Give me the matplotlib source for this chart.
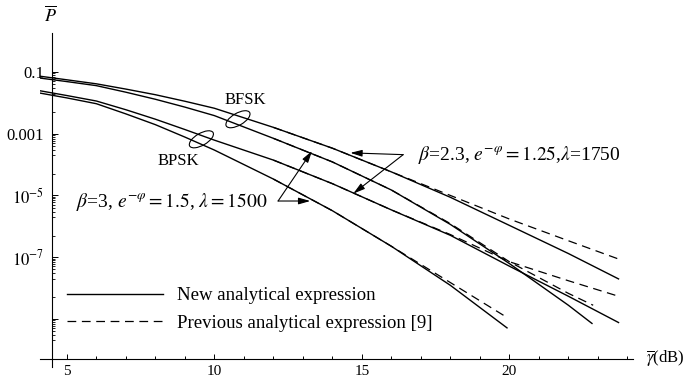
# -*- coding: utf-8 -*-
"""
Average BEP of BFSK / BPSK vs average SNR: new and previous analytical expressions.
"""

import numpy as np
import matplotlib.pyplot as plt
import matplotlib.transforms as mtransforms
from matplotlib.patches import Ellipse
from matplotlib.lines import Line2D

plt.rcParams['font.family'] = ['Liberation Serif', 'DejaVu Serif']
plt.rcParams['mathtext.fontset'] = 'stix'

# average SNR (dB) where the curves were read
snr = [4.1, 5, 6, 7, 8, 9, 10, 12, 14, 16, 18, 20, 22, 23.7]
snr_bfsk3 = [4.1, 5, 6, 7, 8, 9, 10, 12, 14, 16, 18, 20, 22, 22.8]
snr_bpsk3 = [4.1, 5, 6, 7, 8, 9, 10, 12, 14, 16, 18, 19.92]
snr_old = [12, 14, 16, 18, 20, 22, 23.7]
snr_bfsk3_old = [12, 14, 16, 18, 20, 22, 22.84]
snr_bpsk3_old = [12, 14, 16, 18, 19.85]

# BFSK, beta=2.3, e^-phi=1.25, lambda=1750
bfsk_a_new = [7.3e-2, 5.6e-2, 4.15e-2, 2.8e-2, 1.84e-2, 1.13e-2, 6.7e-3,
              1.61e-3, 3.4e-4, 5.8e-5, 8.7e-6, 1.07e-6, 1.31e-7, 1.97e-8]
bfsk_a_old = [1.61e-3, 3.4e-4, 5.8e-5, 1.0e-5, 1.72e-6, 3.4e-7, 8.7e-8]
# BFSK, beta=3, e^-phi=1.5, lambda=1500
bfsk_b_new = [6.36e-2, 4.9e-2, 3.62e-2, 2.22e-2, 1.31e-2, 7.3e-3, 3.87e-3,
              7.1e-4, 1.22e-4, 1.5e-5, 1.15e-6, 6.2e-8, 2.76e-9, 7.1e-10]
bfsk_b_old = [7.1e-4, 1.22e-4, 1.5e-5, 1.22e-6, 7.1e-8, 6.7e-9, 2.76e-9]
# BPSK, beta=2.3, e^-phi=1.25, lambda=1750
bpsk_a_new = [2.46e-2, 1.73e-2, 1.15e-2, 6.0e-3, 2.96e-3, 1.37e-3, 6.2e-4,
              1.40e-4, 2.41e-5, 3.4e-6, 5.1e-7, 5.1e-8, 5.4e-9, 7.6e-10]
bpsk_a_old = [1.40e-4, 2.41e-5, 3.4e-6, 5.4e-7, 7.1e-8, 1.72e-8, 5.4e-9]
# BPSK, beta=3, e^-phi=1.5, lambda=1500
bpsk_b_new = [2.07e-2, 1.45e-2, 9.4e-3, 4.4e-3, 1.97e-3, 7.8e-4, 2.96e-4,
              3.4e-5, 3.2e-6, 2.25e-7, 1.22e-8, 5.1e-10]
bpsk_b_old = [3.4e-5, 3.2e-6, 2.25e-7, 1.5e-8, 1.22e-9]

# y tick labels
ytick_vals = [1e-1, 1e-3, 1e-5, 1e-7, 1e-9]
ytick_text = ['0.1', '0.001', r'$10^{-5}$', r'$10^{-7}$', '']

fig = plt.figure(figsize=(6.89, 3.82), dpi=100)
ax = fig.add_axes([40/689, 1-359/382, 592.7/689, 326/382])
ax.set_yscale('log')
ax.set_xlim(4.09, 24.18)
ax.set_ylim(10**-9.32, 10**0.265)

solid = dict(color='k', lw=1.0)
dash = dict(color='k', lw=0.9, dashes=(7, 4.5))

ax.plot(snr, bfsk_a_new, **solid)
ax.plot(snr_old, bfsk_a_old, **dash)
ax.plot(snr_bfsk3, bfsk_b_new, **solid)
ax.plot(snr_bfsk3_old, bfsk_b_old, **dash)
ax.plot(snr, bpsk_a_new, **solid)
ax.plot(snr_old, bpsk_a_old, **dash)
ax.plot(snr_bpsk3, bpsk_b_new, **solid)
ax.plot(snr_bpsk3_old, bpsk_b_old, **dash)

# axes in Mathematica style
for s in ['top', 'right']:
    ax.spines[s].set_visible(False)
ax.spines['left'].set_position(('data', 4.5))
ax.spines['left'].set_linewidth(0.8)
ax.spines['bottom'].set_linewidth(0.8)
ax.plot([4.5, 4.5], [0, -0.025], color='k', lw=0.8, clip_on=False,
        transform=mtransforms.blended_transform_factory(ax.transData, ax.transAxes))

ax.set_xticks([5, 10, 15, 20])
ax.set_xticks([x for x in range(6, 25) if x % 5 != 0], minor=True)
ax.set_yticks(ytick_vals)
ax.set_yticklabels(ytick_text)
minor_y = []
for k in ytick_vals:
    minor_y += [m * k / 10 for m in range(2, 10)] + [5 * k / 100]
ax.set_yticks(minor_y, minor=True)
ax.yaxis.set_minor_formatter(plt.NullFormatter())
ax.tick_params(axis='x', which='major', direction='in', length=3.5, width=0.7, labelsize=11, pad=4)
ax.tick_params(axis='x', which='minor', direction='in', length=2.2, width=0.7)
ax.tick_params(axis='y', which='major', direction='in', length=4.5, width=0.7, labelsize=12, pad=6)
ax.tick_params(axis='y', which='minor', direction='in', length=2.5, width=0.6)

# axis labels
fig.text(50/689, 1-15/382, r'$\overline{P}$', ha='center', va='center', fontsize=13)
fig.text(646/689, 1-358/382, r'$\overline{\gamma}$(dB)', ha='left', va='center', fontsize=12)

# BFSK / BPSK marks
ax.text(11.04, 1.23e-2, 'BFSK', ha='center', va='center', fontsize=12)
ax.text(8.77, 1.3e-4, 'BPSK', ha='center', va='center', fontsize=12)
for xc, yc in [(10.80, 2.95e-3), (9.56, 6.6e-4)]:
    e = Ellipse((0, 0), 0.27, 0.12, angle=30, fill=False, color='k', lw=0.8,
                transform=fig.dpi_scale_trans + mtransforms.ScaledTranslation(xc, yc, ax.transData))
    ax.add_patch(e)

# parameter labels with arrows
arr = dict(arrowstyle='-|>,head_length=0.7,head_width=0.2', color='k', lw=0.8,
           shrinkA=0, shrinkB=0)
ax.text(16.9, 2.1e-4, r'$\beta$=2.3, $e^{-\varphi}=1.25$,$\lambda$=1750',
        ha='left', va='center', fontsize=14)
ax.annotate('', xy=(14.61, 2.4e-4), xytext=(16.4, 2.1e-4), arrowprops=arr)
ax.annotate('', xy=(14.71, 1.15e-5), xytext=(16.4, 2.1e-4), arrowprops=arr)

ax.text(5.31, 6.2e-6, r'$\beta$=3, $e^{-\varphi}=1.5$, $\lambda=1500$',
        ha='left', va='center', fontsize=14)
ax.annotate('', xy=(13.31, 2.76e-4), xytext=(12.16, 6.6e-6), arrowprops=arr)
ax.annotate('', xy=(13.25, 6.6e-6), xytext=(12.16, 6.6e-6), arrowprops=arr)

# legend
handles = [Line2D([], [], **solid), Line2D([], [], **dash)]
ax.legend(handles, ['New analytical expression', 'Previous analytical expression [9]'],
          loc='upper left', bbox_to_anchor=(67/689, 1-287/382), bbox_transform=fig.transFigure,
          frameon=False, fontsize=13.5, borderpad=0, borderaxespad=0,
          handlelength=5.1, handletextpad=0.75, labelspacing=0.56)

fig.savefig('out.png', dpi=100)
